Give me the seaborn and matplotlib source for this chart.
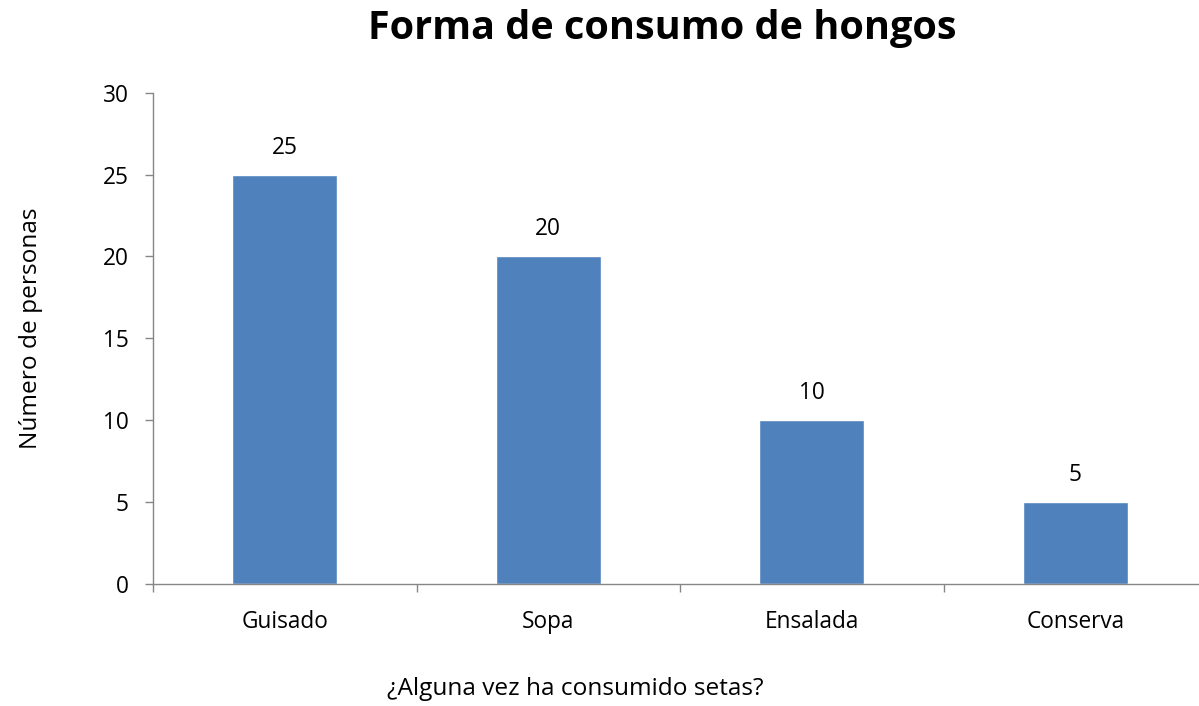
import numpy as np
import pandas as pd
import matplotlib
matplotlib.use("Agg")
import matplotlib.pyplot as plt
import seaborn as sns

# -----------------------------
# Data
# -----------------------------
categories = ["Guisado", "Sopa", "Ensalada", "Conserva"]
personas = [25, 20, 10, 5]
y_ticks = [0, 5, 10, 15, 20, 25, 30]

df = pd.DataFrame({"categoria": categories, "personas": personas})

sns.set_theme(style="white")
plt.rcParams["font.family"] = ["Open Sans", "DejaVu Sans"]
plt.rcParams["text.color"] = "black"

fig = plt.figure(figsize=(11.99, 7.06), dpi=100)
# plot area runs slightly past the right edge, like the original
ax = fig.add_axes([0.1276, 0.1728, 0.8791, 0.6960])

sns.barplot(
    data=df,
    x="categoria",
    y="personas",
    color="#4F81BD",
    saturation=1,
    width=0.4,
    ax=ax,
)

# value labels above bars
for i, v in enumerate(personas):
    ax.text(i, v + 1.28, str(v), ha="center", va="baseline", fontsize=16.3, color="black")

ax.set_xlim(-0.5, len(categories) - 0.5)
ax.set_ylim(0, 30)
ax.set_yticks(y_ticks)
ax.tick_params(axis="y", labelsize=16.3, length=5.5, width=1, color="#868686", pad=12,
               left=True, labelcolor="black")
ax.tick_params(axis="x", labelsize=16.3, length=0, pad=18.5, labelcolor="black")

# category boundary ticks
ax.set_xticks(np.arange(len(categories) + 1) - 0.5, minor=True)
ax.tick_params(axis="x", which="minor", length=5.5, width=1, color="#868686", bottom=True)

for s in ["top", "right"]:
    ax.spines[s].set_visible(False)
for s in ["left", "bottom"]:
    ax.spines[s].set_color("#868686")
    ax.spines[s].set_linewidth(1)

ax.set_xlabel("")
ax.set_ylabel("")
fig.text(0.480, 0.016, "¿Alguna vez ha consumido setas?", ha="center", va="baseline",
         fontsize=17.6, color="black")
fig.text(0.026, 0.535, "Número de personas", rotation=90, ha="center", va="center",
         fontsize=17.6, color="black")
fig.text(0.552, 0.9448, "Forma de consumo de hongos", ha="center", va="baseline",
         fontsize=28.5, fontweight="bold", color="black")

fig.savefig("out.png", dpi=100)
